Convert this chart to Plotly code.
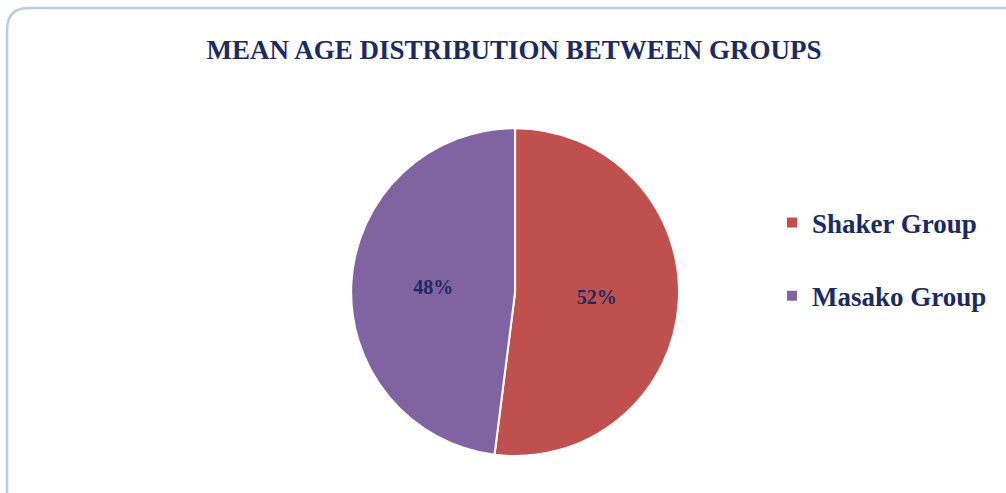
import plotly.graph_objects as go

title_text = "MEAN AGE DISTRIBUTION BETWEEN GROUPS"
groups = ["Shaker Group", "Masako Group"]
shares = [52, 48]
colors = ["#C0504D", "#8064A2"]

navy = "#1B2A63"

# legend entries get an empty second line so the items sit further apart
legend_labels = [g + "<br> " for g in groups]

fig = go.Figure()
fig.add_trace(go.Pie(
    labels=legend_labels,
    values=shares,
    customdata=groups,
    sort=False,
    direction="clockwise",
    rotation=0,
    marker=dict(colors=colors, line=dict(color="white", width=2)),
    texttemplate="%{percent:.0%}",
    textposition="inside",
    insidetextorientation="horizontal",
    textfont=dict(family="Liberation Serif", size=20, color=navy, weight="bold"),
    domain=dict(x=[0.30, 0.724], y=[0.075, 0.74]),
    hovertemplate="%{customdata}: %{percent}<extra></extra>",
))

# rounded frame
x0, y0 = 7 / 1006, 1 - 8 / 493
rx, ry = 22 / 1006, 22 / 493
x1 = 1030 / 1006
ybot = -0.1
path = (f"M {x0},{ybot} L {x0},{y0 - ry} Q {x0},{y0} {x0 + rx},{y0} "
        f"L {x1},{y0}")
fig.add_shape(type="path", path=path, xref="paper", yref="paper",
              line=dict(color="#B9CDE5", width=2.5), layer="below")

fig.update_layout(
    width=1006, height=493,
    margin=dict(l=0, r=0, t=0, b=0),
    paper_bgcolor="white",
    plot_bgcolor="white",
    title=dict(text=f"<b>{title_text}</b>", x=0.511, xanchor="center",
               y=1 - 50 / 493, yanchor="middle",
               font=dict(family="Liberation Serif", size=27, color=navy)),
    legend=dict(x=772 / 1006, xanchor="left", y=1 - 277 / 493, yanchor="middle",
                valign="top",
                font=dict(family="Liberation Serif", size=27, color=navy, weight="bold"),
                itemwidth=30),
    showlegend=True,
)
fig.write_html("out.html", config={"displayModeBar": False},
               post_script="document.body.style.margin='0px';")
